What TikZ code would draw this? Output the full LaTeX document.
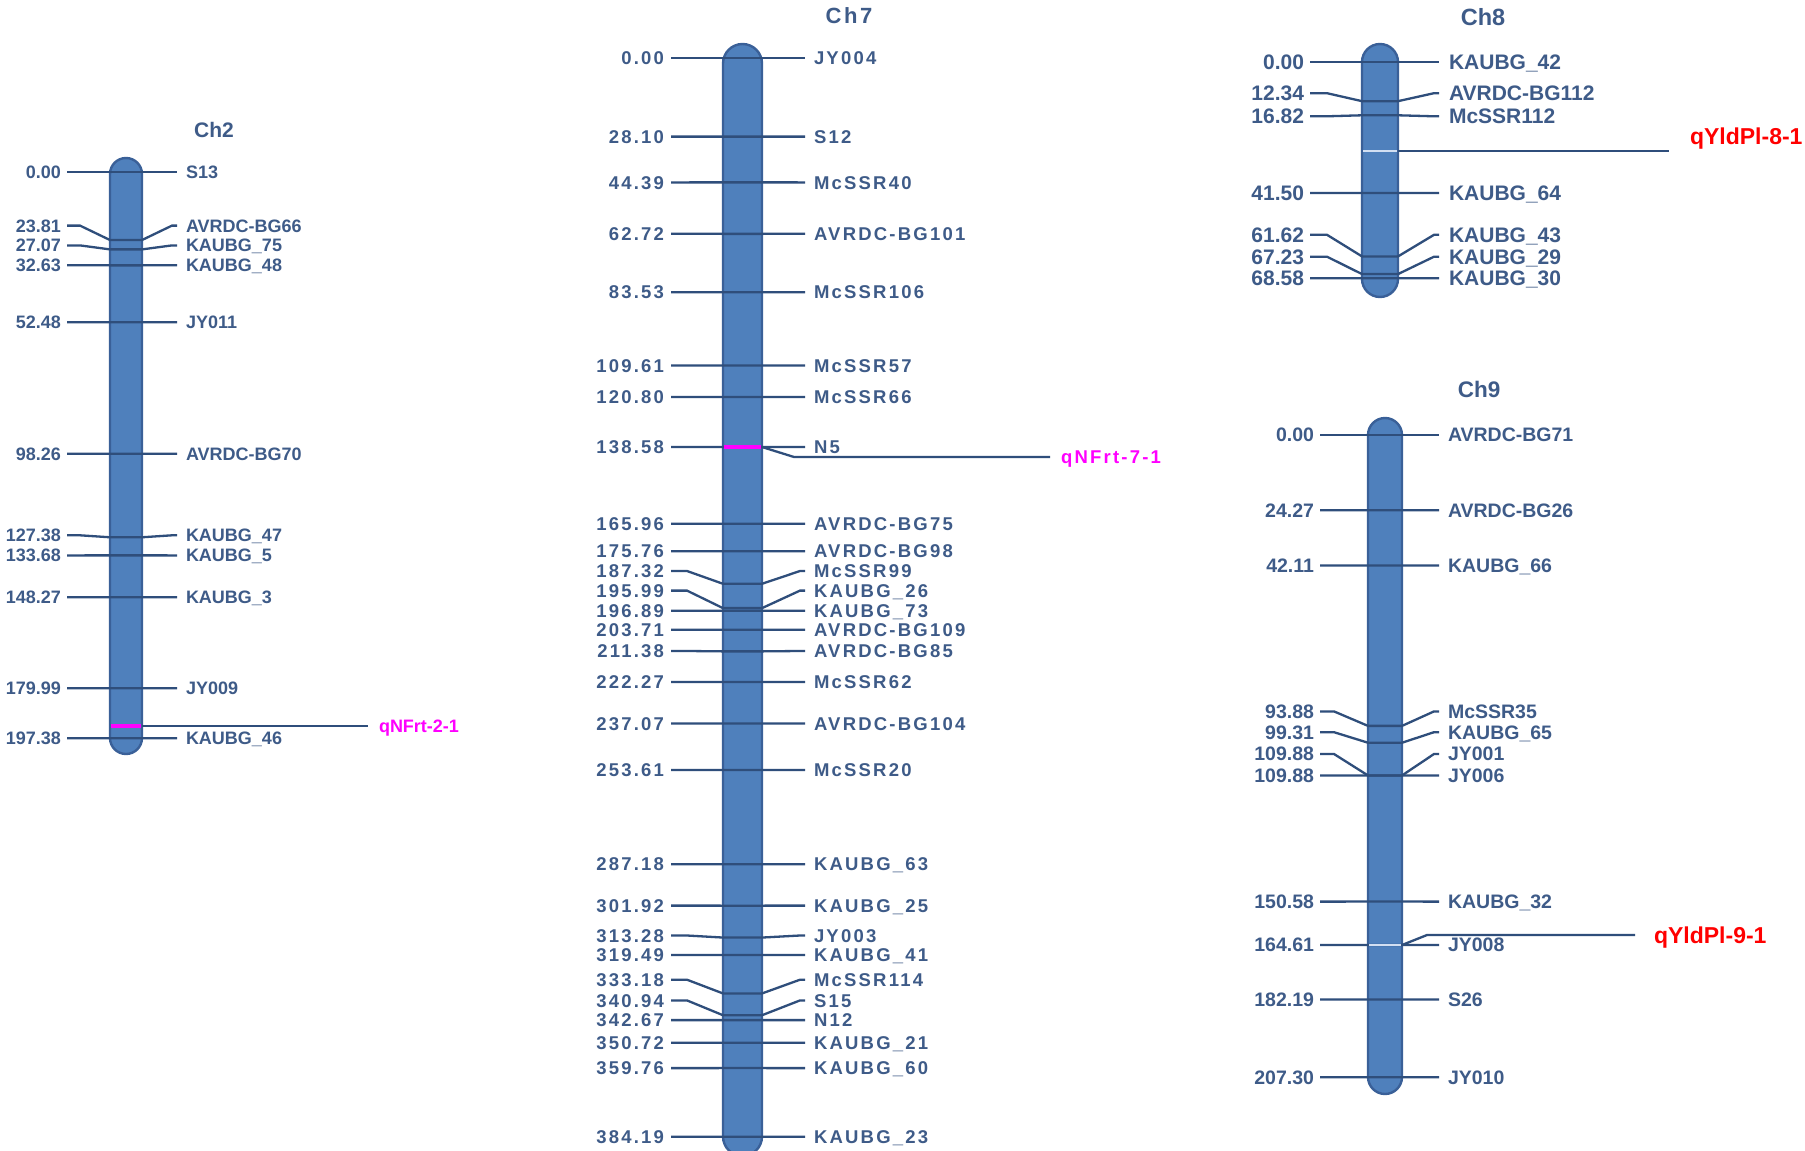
\documentclass[tikz,border=0pt]{standalone}
\usepackage{fontspec}
\setmainfont{Liberation Sans}
\newfontfamily\trackedsf[LetterSpace=12]{Liberation Sans}
\usepackage{tikz}
\usetikzlibrary{positioning}
\definecolor{MapLine}{HTML}{2F4E7B}
\definecolor{MapText}{HTML}{3E5B88}
\definecolor{BarFill}{HTML}{4F80BC}
\definecolor{BarEdge}{HTML}{3A6098}
\definecolor{QtlHit}{HTML}{D2DFF2}
\definecolor{QtlRed}{HTML}{FF0000}
\definecolor{QtlPink}{HTML}{FF00FF}

\begin{document}
\begin{tikzpicture}[x=1pt, y=-1pt,
    chrom/.style={fill=BarFill, draw=BarEdge, line width=2.4pt, rounded corners=#1pt},
    link/.style={draw=MapLine, line width=2.3pt},
    sz/.style={font=\fontsize{#1}{#1}\selectfont\bfseries, text height={0.716*#1pt}},
    trk/.style={font=\trackedsf\fontsize{#1}{#1}\selectfont\bfseries, text height={0.716*#1pt}},
    poslbl/.style={anchor=east, text=MapText, inner xsep=6pt, inner ysep=0pt, outer sep=0pt, text depth=0pt},
    mklbl/.style={anchor=west, text=MapText, inner xsep=9pt, inner ysep=0pt, outer sep=0pt, text depth=0pt},
    chname/.style={text=MapText, inner sep=0pt},
    qtlname/.style={anchor=west, inner ysep=0pt, outer sep=0pt, text depth=0pt}
  ]
    \fill[white] (0,0) rectangle (1805,1151);
    \useasboundingbox (0,0) rectangle (1805,1151);

    % Ch2
    \node[chname, sz=21] (ch2) at (214,130) {Ch2};
    \draw[chrom=16] (110,158) rectangle (142,754);
    \foreach \p/\ly/\nm [count=\i] in {0.00/171.7/S13, 23.81/225.6/AVRDC-BG66, 27.07/245.4/KAUBG\_75,
        32.63/265.3/KAUBG\_48, 52.48/322.3/JY011, 98.26/453.7/AVRDC-BG70, 127.38/535.3/KAUBG\_47,
        133.68/555.4/KAUBG\_5, 148.27/597.2/KAUBG\_3, 179.99/688.3/JY009, 197.38/738.2/KAUBG\_46} {
      \pgfmathsetmacro\ty{171.7+2.870*\p}
      \node[poslbl, sz=18] (ch2pos\i) at (67,\ly) {\p};
      \node[mklbl, sz=18] (ch2mk\i) at (177,\ly) {\nm};
      \draw[link] (ch2pos\i.east) -- (80,\ly) -- (110,\ty) -- (142,\ty) -- (172,\ly) -- (ch2mk\i.west);
    }
    \draw[QtlPink, line width=3.5pt] (111,726) -- (141,726);
    \coordinate (ch2q) at (142,726);
    \coordinate (ch2qe) at (368,726);
    \node[qtlname, sz=18, text=QtlPink, inner xsep=11pt, right=0pt of ch2qe] (ch2qtl) {qNFrt-2-1};
    \draw[link] (ch2q) -- (ch2qtl.west);

    % Ch7
    \node[chname, trk=22] (ch7) at (849,16) {Ch7};
    \draw[chrom=19.5] (723,44) rectangle (762,1156);
    \foreach \p/\ly/\nm [count=\i] in {0.00/57.7/JY004, 28.10/136.6/S12, 44.39/182.4/McSSR40,
        62.72/233.8/AVRDC-BG101, 83.53/292.3/McSSR106, 109.61/365.5/McSSR57, 120.80/397.0/McSSR66,
        138.58/446.9/N5, 165.96/523.8/AVRDC-BG75, 175.76/551.3/AVRDC-BG98, 187.32/571.0/McSSR99,
        195.99/590.6/KAUBG\_26, 196.89/610.7/KAUBG\_73, 203.71/629.8/AVRDC-BG109, 211.38/651.0/AVRDC-BG85,
        222.27/681.9/McSSR62, 237.07/723.5/AVRDC-BG104, 253.61/769.9/McSSR20, 287.18/864.2/KAUBG\_63,
        301.92/905.6/KAUBG\_25, 313.28/935.5/JY003, 319.49/955.0/KAUBG\_41, 333.18/979.7/McSSR114,
        340.94/1000.4/S15, 342.67/1020.1/N12, 350.72/1042.7/KAUBG\_21, 359.76/1068.1/KAUBG\_60,
        384.19/1136.7/KAUBG\_23} {
      \pgfmathsetmacro\ty{57.7+2.8085*\p}
      \node[poslbl, trk=18.5, inner xsep=7pt] (ch7pos\i) at (671,\ly) {\p};
      \node[mklbl, trk=18.5] (ch7mk\i) at (805,\ly) {\nm};
      \draw[link] (ch7pos\i.east) -- (687,\ly) -- (723,\ty) -- (762,\ty) -- (800,\ly) -- (ch7mk\i.west);
    }
    \draw[QtlPink, line width=3.5pt] (724,447) -- (761,447);
    \coordinate (ch7q) at (762,447);
    \coordinate (ch7qe) at (1050,457);
    \node[qtlname, trk=18.5, text=QtlPink, inner xsep=11pt, right=0pt of ch7qe] (ch7qtl) {qNFrt-7-1};
    \draw[link] (ch7q) -- (794,457) -- (ch7qtl.west);

    % Ch8
    \node[chname, sz=23.5] (ch8) at (1483,17) {Ch8};
    \draw[chrom=18] (1362,44) rectangle (1398,297);
    \foreach \p/\ly/\nm [count=\i] in {0.00/62.3/KAUBG\_42, 12.34/93.2/AVRDC-BG112, 16.82/116.3/McSSR112,
        41.50/193.0/KAUBG\_64, 61.62/234.8/KAUBG\_43, 67.23/256.7/KAUBG\_29, 68.58/278.3/KAUBG\_30} {
      \pgfmathsetmacro\ty{62.3+3.150*\p}
      \node[poslbl, sz=21] (ch8pos\i) at (1310,\ly) {\p};
      \node[mklbl, sz=21, inner xsep=10pt] (ch8mk\i) at (1439,\ly) {\nm};
      \draw[link] (ch8pos\i.east) -- (1327,\ly) -- (1362,\ty) -- (1398,\ty) -- (1434,\ly) -- (ch8mk\i.west);
    }
    \draw[QtlHit, line width=2pt] (1363,151) -- (1397,151);
    \coordinate (ch8q) at (1398,151);
    \coordinate (ch8qe) at (1669,151);
    \draw[link] (ch8q) -- (ch8qe);
    \node[qtlname, sz=23, text=QtlRed, inner sep=0pt, anchor=base west] (ch8qtl) at (1690,144) {qYldPl-8-1};

    % Ch9
    \node[chname, sz=22.5] (ch9) at (1479,390) {Ch9};
    \draw[chrom=17] (1368,418) rectangle (1402,1094);
    \foreach \p/\ly/\nm [count=\i] in {0.00/435.0/AVRDC-BG71, 24.27/510.2/AVRDC-BG26, 42.11/565.5/KAUBG\_66,
        93.88/711.4/McSSR35, 99.31/732.2/KAUBG\_65, 109.88/754.0/JY001, 109.88/775.5/JY006,
        150.58/901.6/KAUBG\_32, 164.61/945.0/JY008, 182.19/999.5/S26, 207.30/1077.3/JY010} {
      \pgfmathsetmacro\ty{435.0+3.0985*\p}
      \node[poslbl, sz=19.5] (ch9pos\i) at (1320,\ly) {\p};
      \node[mklbl, sz=19.5] (ch9mk\i) at (1439,\ly) {\nm};
      \draw[link] (ch9pos\i.east) -- (1334,\ly) -- (1368,\ty) -- (1402,\ty) -- (1434,\ly) -- (ch9mk\i.west);
    }
    \draw[QtlHit, line width=2pt] (1369,945) -- (1401,945);
    \coordinate (ch9q) at (1402,945);
    \coordinate (ch9qe) at (1635,935);
    \node[qtlname, sz=23, text=QtlRed, inner xsep=19pt, right=0pt of ch9qe] (ch9qtl) {qYldPl-9-1};
    \draw[link] (ch9q) -- (1427,935) -- (ch9qtl.west);
\end{tikzpicture}
\end{document}
